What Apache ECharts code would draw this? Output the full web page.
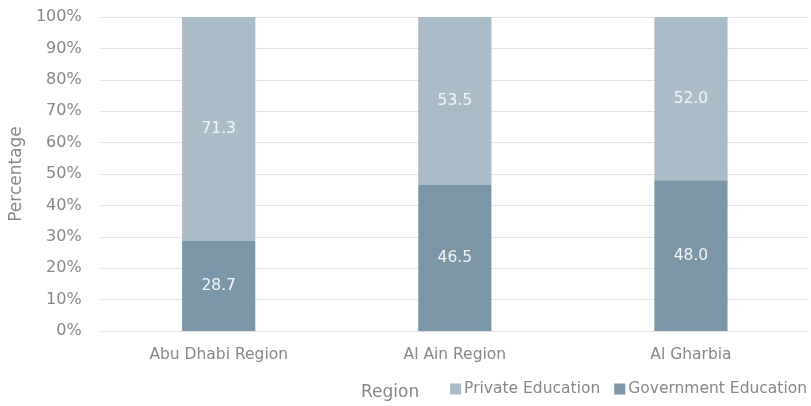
<!DOCTYPE html>
<html>
<head>
<meta charset="utf-8">
<script src="https://cdn.jsdelivr.net/npm/echarts@6/dist/echarts.min.js"></script>
<style>
  html, body { margin: 0; padding: 0; background: #fff; }
  #chart { width: 811px; height: 406px; }
</style>
</head>
<body>
<div id="chart"></div>
<script>
// Share of students by education sector in each region (%)
const regions = ['Abu Dhabi Region', 'Al Ain Region', 'Al Gharbia'];
const governmentEducation = [28.7, 46.5, 48.0];
const privateEducation = [71.3, 53.5, 52.0];
const percentTicks = [0, 10, 20, 30, 40, 50, 60, 70, 80, 90, 100];

const FONT = 'DejaVu Sans';
const TEXT_GREY = '#878787';

const chart = echarts.init(document.getElementById('chart'));

const valueLabel = {
  show: true,
  position: 'inside',
  color: '#f2f5f7',
  fontFamily: FONT,
  fontSize: 15.5,
  formatter: p => p.value.toFixed(1)
};

chart.setOption({
  animation: false,
  textStyle: { fontFamily: FONT },
  grid: { left: 99, right: 2, top: 17, bottom: 75, containLabel: false },
  legend: {
    right: 4,
    top: 381,
    padding: 0,
    itemWidth: 11,
    itemHeight: 11,
    itemGap: 14,
    icon: 'rect',
    textStyle: { color: TEXT_GREY, fontSize: 15.5, fontFamily: FONT, padding: [0, 0, 0, -2] },
    data: ['Private Education', 'Government Education']
  },
  graphic: [{
    type: 'text',
    left: 361,
    top: 384,
    style: { text: 'Region', fill: TEXT_GREY, fontSize: 17, fontFamily: FONT }
  }],
  xAxis: {
    type: 'category',
    data: regions,
    axisLine: { show: false },
    axisTick: { show: false },
    axisLabel: { color: TEXT_GREY, fontSize: 15.5, margin: 16, fontFamily: FONT }
  },
  yAxis: {
    type: 'value',
    min: percentTicks[0],
    max: percentTicks[percentTicks.length - 1],
    interval: 10,
    name: 'Percentage',
    nameLocation: 'middle',
    nameGap: 74,
    nameTextStyle: { color: TEXT_GREY, fontSize: 17, fontFamily: FONT },
    axisLine: { show: false },
    axisTick: { show: false },
    axisLabel: { color: TEXT_GREY, fontSize: 16, margin: 19, fontFamily: FONT, formatter: '{value}%' },
    splitLine: { lineStyle: { color: '#e3e3e3', width: 1 } }
  },
  series: [
    {
      name: 'Government Education',
      type: 'bar',
      stack: 'share',
      barWidth: '31%',
      data: governmentEducation,
      itemStyle: { color: '#7b97a7' },
      label: valueLabel
    },
    {
      name: 'Private Education',
      type: 'bar',
      stack: 'share',
      barWidth: '31%',
      data: privateEducation,
      itemStyle: { color: '#a9bcc7' },
      label: valueLabel
    }
  ]
});
</script>
</body>
</html>
